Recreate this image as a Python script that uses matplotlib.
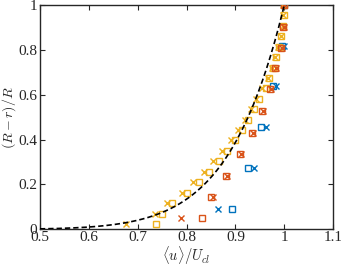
import numpy as np
import matplotlib
matplotlib.use("Agg")
import matplotlib.pyplot as plt

# ---- data ----
# yellow series
yel_y = [0.024, 0.070, 0.117, 0.163, 0.210, 0.256, 0.303, 0.349, 0.396, 0.442, 0.489,
         0.535, 0.582, 0.628, 0.675, 0.721, 0.768, 0.814, 0.861, 0.907, 0.954, 1.000]
yel_sq = [0.737, 0.750, 0.771, 0.801, 0.825, 0.846, 0.866, 0.883, 0.899, 0.913, 0.926,
          0.939, 0.949, 0.962, 0.969, 0.977, 0.984, 0.990, 0.994, 0.998, 1.000, 0.999]
yel_x = [0.677, 0.735, 0.761, 0.790, 0.814, 0.836, 0.855, 0.873, 0.891, 0.906, 0.919,
         0.931, 0.943, 0.955, 0.966, 0.974, 0.981, 0.988, 0.993, 0.997, 0.998, 0.998]

# red series
red_y = [0.049, 0.144, 0.239, 0.336, 0.431, 0.527, 0.624, 0.718, 0.810, 0.903, 1.000]
red_sq = [0.831, 0.851, 0.880, 0.909, 0.933, 0.955, 0.970, 0.982, 0.993, 0.998, 1.000]
red_x = [0.788, 0.854, 0.883, 0.912, 0.936, 0.957, 0.972, 0.984, 0.995, 0.999, 1.000]

# blue series
blue_y = [0.092, 0.274, 0.455, 0.637, 0.818, 1.000]
blue_sq = [0.893, 0.926, 0.952, 0.976, 0.995, 1.000]
blue_x = [0.865, 0.938, 0.962, 0.984, 0.999, 1.000]

# reference power-law profile exponent: (R-r)/R = (u/Ucl)^n
power_n = 9

xticks = [0.5, 0.6, 0.7, 0.8, 0.9, 1.0, 1.1]
xtick_labels = ["0.5", "0.6", "0.7", "0.8", "0.9", "1", "1.1"]
yticks = [0, 0.2, 0.4, 0.6, 0.8, 1.0]
ytick_labels = ["0", "0.2", "0.4", "0.6", "0.8", "1"]

# ---- styling ----
plt.rcParams['mathtext.fontset'] = 'cm'
plt.rcParams['font.family'] = ['Liberation Serif', 'DejaVu Serif']

c_blue = '#0072BD'
c_red = '#D95319'
c_yel = '#EDB120'

fig = plt.figure(figsize=(3.41, 2.66), dpi=100)
ax = fig.add_axes([0.117, 0.138, 0.860, 0.843])

ms = 5.0
mew = 1.0
ax.plot(blue_sq, blue_y, 's', mfc='none', mec=c_blue, ms=ms, mew=mew, zorder=3)
ax.plot(blue_x, blue_y, 'x', color=c_blue, ms=ms - 1, mew=mew, zorder=3)
ax.plot(yel_sq, yel_y, 's', mfc='none', mec=c_yel, ms=ms, mew=mew, zorder=3)
ax.plot(yel_x, yel_y, 'x', color=c_yel, ms=ms - 1, mew=mew, zorder=3)
ax.plot(red_sq, red_y, 's', mfc='none', mec=c_red, ms=ms, mew=mew, zorder=4)
ax.plot(red_x, red_y, 'x', color=c_red, ms=ms - 1, mew=mew, zorder=4)

xc = np.linspace(0.5, 1.0, 300)
ax.plot(xc, xc ** power_n, color='black', lw=1.2, dashes=(3.2, 1.8), zorder=5)

ax.set_xlim(0.5, 1.1)
ax.set_ylim(0, 1)
ax.set_xticks(xticks)
ax.set_xticklabels(xtick_labels)
ax.set_yticks(yticks)
ax.set_yticklabels(ytick_labels)

ax.tick_params(direction='in', top=True, right=True, length=3.5, width=0.8,
               labelsize=11, colors='#262626')
ax.tick_params(axis='x', pad=1.5)
ax.tick_params(axis='y', pad=2)
for s in ax.spines.values():
    s.set_linewidth(1.0)
    s.set_color('#262626')

ax.set_xlabel(r'$\langle u\rangle/U_{cl}$', fontsize=10.5, color='#262626')
ax.set_ylabel(r'$(R-r)/R$', fontsize=10, color='#262626')
ax.xaxis.set_label_coords(0.5, -0.066)
ax.yaxis.set_label_coords(-0.073, 0.5)

fig.savefig('out.png', dpi=100)
